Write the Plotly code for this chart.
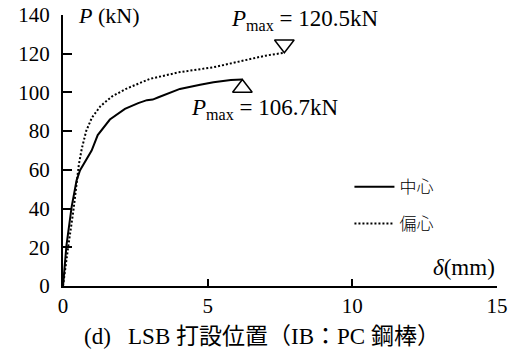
import plotly.graph_objects as go

# Load-displacement curves (delta in mm, P in kN)
center_delta = [0, 0.05, 0.12, 0.3, 0.47, 0.59, 0.75, 0.99, 1.2, 1.62, 2.14, 2.6, 2.9,
                3.1, 3.3, 3.8, 4.04, 4.74, 5.2, 5.8, 6.2]
center_load = [0, 8, 21, 41, 54.6, 59.8, 64, 70, 78, 86, 91.5, 94.5, 96, 96.3, 97.5,
               100.5, 101.8, 104, 105.3, 106.4, 106.7]

eccentric_delta = [0, 0.05, 0.18, 0.36, 0.47, 0.55, 0.65, 0.8, 1.0, 1.3, 1.7, 2.2, 3.0,
                   4.04, 5.2, 6.35, 7.0, 7.65]
eccentric_load = [0, 5, 20.3, 39, 53, 63, 71, 80, 87, 93, 98, 102, 107, 110.5, 113,
                  116.9, 119, 120.5]

series_names = ["中心", "偏心"]
pmax_center = 106.7
pmax_eccentric = 120.5

x_ticks = [0, 5, 10, 15]
y_ticks = [0, 20, 40, 60, 80, 100, 120, 140]

SERIF = "Liberation Serif"
CJK = "Noto Sans CJK JP"
MARK_SIZE = 17
KN_PER_PX = 140 / 271.0
tri_shift = (MARK_SIZE / 2) * KN_PER_PX  # moves the triangle apex onto the peak

fig = go.Figure()
fig.add_trace(go.Scatter(
    x=center_delta, y=center_load, mode="lines", name=series_names[0],
    line=dict(color="black", width=2), legend="legend"))
fig.add_trace(go.Scatter(
    x=eccentric_delta, y=eccentric_load, mode="lines", name=series_names[1],
    line=dict(color="black", width=2, dash="2px,2px"), legend="legend2"))

# peak markers
fig.add_trace(go.Scatter(
    x=[center_delta[-1]], y=[pmax_center - tri_shift], mode="markers", showlegend=False,
    marker=dict(symbol="triangle-up-open", size=MARK_SIZE, color="black",
                line=dict(width=1.5, color="black"))))
fig.add_trace(go.Scatter(
    x=[eccentric_delta[-1]], y=[pmax_eccentric + tri_shift], mode="markers", showlegend=False,
    marker=dict(symbol="triangle-down-open", size=MARK_SIZE, color="black",
                line=dict(width=1.5, color="black"))))

axis_common = dict(showgrid=False, zeroline=False, showline=True, linecolor="black",
                   linewidth=2, ticks="inside", tickcolor="black", tickwidth=2,
                   automargin=False,
                   tickfont=dict(family=SERIF, size=21, color="black"))

fig.update_xaxes(range=[0, 15], tickvals=x_ticks, ticklen=7, **axis_common)
fig.update_yaxes(range=[0, 140], tickvals=y_ticks, ticklen=9, ticklabelstandoff=7,
                 **axis_common)

legend_common = dict(xanchor="left", yanchor="middle", bgcolor="rgba(0,0,0,0)",
                     itemwidth=40,
                     font=dict(family=CJK, size=17, color="black", weight=300),
                     borderwidth=0)

fig.update_layout(
    width=512, height=351,
    margin=dict(l=63, r=15, t=15, b=65),
    paper_bgcolor="white", plot_bgcolor="white",
    legend=dict(x=0.66, y=0.365, **legend_common),
    legend2=dict(x=0.66, y=0.229, **legend_common),
    annotations=[
        dict(x=0.45, y=140, xref="x", yref="y", xanchor="left", yanchor="middle",
             text="<i>P</i> (kN)", showarrow=False,
             font=dict(family=SERIF, size=22, color="black")),
        dict(x=15, y=9.5, xref="x", yref="y", xanchor="right", yanchor="middle",
             text="<i>δ</i>(mm)", showarrow=False,
             font=dict(family=SERIF, size=23, color="black")),
        dict(x=5.72, y=139, yshift=-3, xref="x", yref="y", xanchor="left", yanchor="middle",
             text="<i>P</i><sub>max</sub> = %.1fkN" % pmax_eccentric, showarrow=False,
             font=dict(family=SERIF, size=23, color="black")),
        dict(x=4.36, y=91.5, xref="x", yref="y", xanchor="left", yanchor="middle",
             text="<i>P</i><sub>max</sub> = %.1fkN" % pmax_center, showarrow=False,
             font=dict(family=SERIF, size=23, color="black")),
        dict(x=(262 - 63) / 434.0, y=-(336 - 286) / 271.0, xref="paper", yref="paper",
             xanchor="center", yanchor="middle", showarrow=False,
             text="(d)\u2002 LSB 打設位置（IB：PC 鋼棒）",
             font=dict(family="Liberation Serif, Noto Sans CJK JP", size=23, color="black")),
    ],
)

fig.write_html("out.html")
